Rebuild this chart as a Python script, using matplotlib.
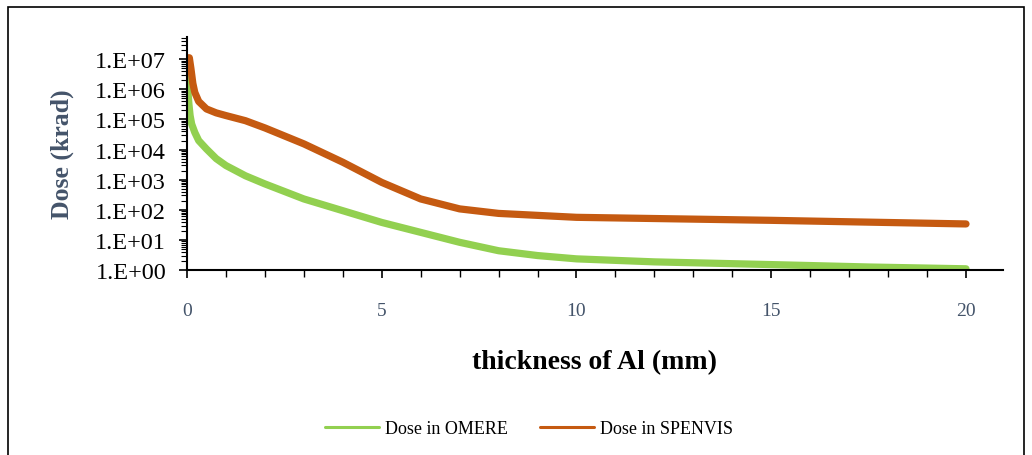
import numpy as np
import matplotlib.pyplot as plt
from matplotlib.patches import Rectangle
from matplotlib.ticker import LogLocator, MultipleLocator, FuncFormatter

plt.rcParams['font.family'] = ['Liberation Serif', 'DejaVu Serif']

# thickness of Al (mm)
x_omere = [0, 0.02, 0.05, 0.08, 0.12, 0.2, 0.3, 0.5, 0.75, 1, 1.5, 2, 3, 4, 5, 6, 7, 8,
           9, 10, 12, 15, 17.5, 20]
# log10 of dose (krad)
logdose_omere = [6.5, 6.0, 5.5, 5.13, 4.85, 4.57, 4.3, 4.02, 3.7, 3.47, 3.13, 2.86,
                 2.36, 1.97, 1.58, 1.25, 0.92, 0.64, 0.48, 0.37, 0.27, 0.18, 0.1, 0.04]

x_spenvis = [0, 0.06, 0.1, 0.15, 0.2, 0.3, 0.5, 0.75, 1, 1.5, 2, 3, 4, 5, 6, 7, 8, 10,
             15, 20]
logdose_spenvis = [7.05, 7.05, 6.7, 6.2, 5.9, 5.6, 5.35, 5.22, 5.13, 4.96, 4.72, 4.19,
                   3.58, 2.91, 2.36, 2.03, 1.88, 1.75, 1.65, 1.53]

fig = plt.figure(figsize=(10.32, 4.56), dpi=100)
fig.patches.append(Rectangle((8 / 1032, -0.05), 1016 / 1032, 1.05 - 8 / 456,
                             transform=fig.transFigure, fill=False,
                             edgecolor='black', linewidth=1.2))
ax = fig.add_axes([187 / 1032, 1 - 271 / 456, (1003 - 187) / 1032, (271 - 38) / 456])

ax.plot(x_omere, 10 ** np.array(logdose_omere), color='#92D050', linewidth=5.2,
        solid_capstyle='round', solid_joinstyle='round', label='Dose in OMERE')
ax.plot(x_spenvis, 10 ** np.array(logdose_spenvis), color='#C55A11', linewidth=5.2,
        solid_capstyle='round', solid_joinstyle='round', label='Dose in SPENVIS')

ax.set_yscale('log')
ax.set_ylim(1, 10 ** 7.74)
ax.set_xlim(0, 20.95)
ax.yaxis.set_major_locator(LogLocator(base=10, numticks=20))
ax.yaxis.set_minor_locator(LogLocator(base=10, subs=np.arange(2, 10), numticks=20))
ax.yaxis.set_major_formatter(FuncFormatter(lambda v, p: '1.E+%02d' % round(np.log10(v))))
ax.xaxis.set_major_locator(MultipleLocator(5))
ax.xaxis.set_minor_locator(MultipleLocator(1))

for s in ['top', 'right']:
    ax.spines[s].set_visible(False)
for s in ['left', 'bottom']:
    ax.spines[s].set_linewidth(1.5)

ax.tick_params(axis='y', which='major', length=6, width=1.2, labelsize=17.5, pad=9)
ax.tick_params(axis='y', which='minor', length=4, width=0.8)
ax.tick_params(axis='x', which='major', length=6, width=1.2, labelsize=14,
               labelcolor='#44546A', pad=17)
ax.tick_params(axis='x', which='minor', length=5, width=1.0)

ax.set_ylabel('Dose (krad)', fontsize=18.5, fontweight='bold', color='#44546A', labelpad=15)
ax.set_xlabel('thickness of Al (mm)', fontsize=20, fontweight='bold', labelpad=21.5)

leg = ax.legend(loc='upper center', bbox_to_anchor=(0.419, -0.575), ncol=2, frameon=False,
                fontsize=13, handlelength=3.0, handletextpad=0.3, columnspacing=1.8)
for ln in leg.get_lines():
    ln.set_linewidth(2.2)

fig.savefig('out.png', dpi=100)
